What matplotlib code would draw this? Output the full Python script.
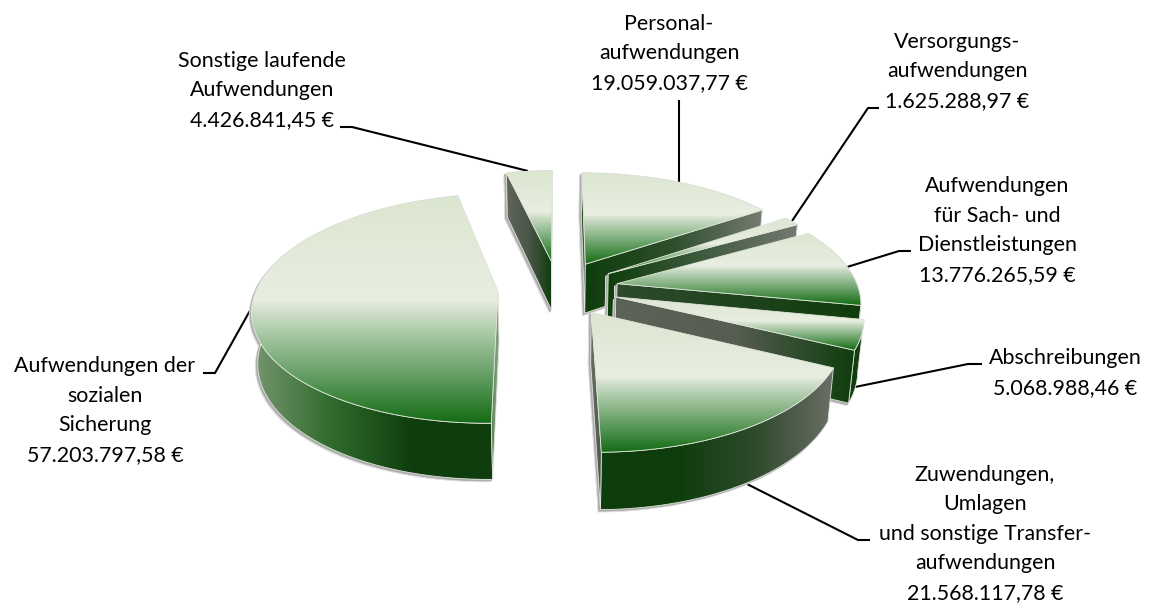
"""Exploded 3D pie of the expense categories, drawn with plain polygons and gradients."""
import matplotlib
matplotlib.use("Agg")
import matplotlib.pyplot as plt
import numpy as np
from matplotlib.colors import LinearSegmentedColormap
from matplotlib.patches import Polygon

# clockwise from north
CATEGORIES = [
    "Personal-\naufwendungen",
    "Versorgungs-\naufwendungen",
    "Aufwendungen\nfür Sach- und\nDienstleistungen",
    "Abschreibungen",
    "Zuwendungen,\nUmlagen\nund sonstige Transfer-\naufwendungen",
    "Aufwendungen der\nsozialen\nSicherung",
    "Sonstige laufende\nAufwendungen",
]
VALUES = [19059037.77, 1625288.97, 13776265.59, 5068988.46, 21568117.78, 57203797.58, 4426841.45]

# layout, in pixels of the 1152x603 canvas
LABEL_X = [669, 957, 997, 1065, 985, 105, 262]
LABEL_Y = [83, 101, 275, 388, 593, 455, 120]
LINE_STEP = 29.6
LEADERS = [
    [(679, 100), (679, 182)],
    [(879, 108), (868, 108), (792, 221)],
    [(911, 251), (899, 251), (847, 267)],
    [(982, 364), (968, 364), (855, 387)],
    [(870, 540), (858, 540), (745, 483)],
    [(203, 373), (215, 373), (252, 307)],
    [(340, 127), (352, 127), (528, 171)],
]
PAINT_ORDER = [6, 0, 1, 2, 3, 4, 5]

# projection
CX, CY = 558, 288
RADIUS_X, RADIUS_Y = 241, 111.3
PERSPECTIVE = 0.148
EXPLODE = 0.25
DEPTH = 50

DARK = "#0f3d0d"
TOP_CMAP = LinearSegmentedColormap.from_list(
    "top",
    [(0, "#dbe6d0"), (0.46, "#e9eee1"), (0.53, "#c8dac2"), (0.75, "#73a873"), (1, "#156c15")],
)
WALL_COLORS = [
    [DARK, "#2f4f2d", "#777b72"],
    [DARK, "#3f5a3d", "#757970"],
    ["#2f4a2d", "#1f431d", DARK],
    ["#5c6357", "#565d51", DARK],
    ["#6a6e66", "#4a5548"],
    ["#5f7f5a", "#8aa585"],
    ["#5f655a", "#4a5548", DARK],
]
RIM_COLORS = [
    [DARK, "#777b72"],
    [DARK, "#757970"],
    [DARK, DARK],
    [DARK, "#17401a"],
    [DARK, DARK, "#2e4a2c", "#6a6e66"],
    ["#76966f", "#2f6a2c", DARK, DARK],
    ["#5f655a", DARK],
]


def project(x, y, bottom=False):
    f = 1 / (1 + PERSPECTIVE * y)
    sx = RADIUS_X * x * f
    sy = CY - RADIUS_Y * y * f
    if bottom:
        return np.column_stack([CX + 0.98 * sx, sy + DEPTH * f**0.7])
    return np.column_stack([CX + sx, sy])


def signed_area(poly):
    x, y = poly[:, 0], poly[:, 1]
    return np.sum(x * np.roll(y, -1) - np.roll(x, -1) * y) / 2


def gradient_fill(ax, poly, colors, zorder, vertical=False, cmap=None):
    cmap = cmap or LinearSegmentedColormap.from_list("g", colors)
    ramp = np.linspace(0, 1, 256)
    ramp = ramp[:, None] if vertical else ramp[None, :]
    x0, y0 = poly.min(axis=0)
    x1, y1 = poly.max(axis=0)
    im = ax.imshow(
        ramp, cmap=cmap, vmin=0, vmax=1, extent=(x0, x1, y1, y0), origin="upper",
        aspect="auto", interpolation="bilinear", zorder=zorder,
    )
    clip = Polygon(poly, closed=True, transform=ax.transData)
    im.set_clip_path(clip)
    ax.add_patch(Polygon(poly, closed=True, fill=False, ec="#dfe4da", lw=0.6, zorder=zorder + 0.1))


def german(value):
    return f"{value:,.2f} €".replace(",", "#").replace(".", ",").replace("#", ".")


fig = plt.figure(figsize=(11.52, 6.03), dpi=100)
ax = fig.add_axes([0, 0, 1, 1])
ax.set_xlim(0, 1152)
ax.set_ylim(603, 0)
ax.autoscale(False)
ax.axis("off")

total = sum(VALUES)
spans = np.array(VALUES) / total * 2 * np.pi
starts = np.concatenate([[0], np.cumsum(spans)[:-1]])

z = 2
for i in PAINT_ORDER:
    t0, t1 = starts[i], starts[i] + spans[i]
    mid = (t0 + t1) / 2
    ax0, ay0 = EXPLODE * np.sin(mid), EXPLODE * np.cos(mid)
    theta = np.linspace(t0, t1, 80)
    ex, ey = ax0 + np.sin(theta), ay0 + np.cos(theta)

    arc_top = project(ex, ey)
    arc_bot = project(ex, ey, bottom=True)
    apex_top = project(np.array([ax0]), np.array([ay0]))
    apex_bot = project(np.array([ax0]), np.array([ay0]), bottom=True)

    top = np.vstack([apex_top, arc_top])
    rim = np.vstack([arc_top, arc_bot[::-1]])
    wall0 = np.vstack([apex_top, arc_top[:1], arc_bot[:1], apex_bot])
    wall1 = np.vstack([apex_top, arc_top[-1:], arc_bot[-1:], apex_bot])

    # soft drop shadow, two offset silhouettes
    for (dx, dy), col in zip([(-2.5, 2.5), (-1.5, 1.5)], ["#dcdcdc", "#ababab"]):
        for poly in (rim, wall0, wall1):
            ax.add_patch(Polygon(poly + [dx, dy], closed=True, fc=col, ec=col, lw=0.5, zorder=z))
        z += 1

    gradient_fill(ax, rim, RIM_COLORS[i], z)
    z += 1
    if signed_area(wall0) < 0:
        gradient_fill(ax, wall0, WALL_COLORS[i], z)
        z += 1
    if signed_area(wall1) > 0:
        gradient_fill(ax, wall1, WALL_COLORS[i], z)
        z += 1
    gradient_fill(ax, top, None, z, vertical=True, cmap=TOP_CMAP)
    z += 1

for pts in LEADERS:
    xs, ys = zip(*pts)
    ax.plot(xs, ys, color="black", lw=1.5, solid_capstyle="butt", zorder=1)

for name, value, x, y in zip(CATEGORIES, VALUES, LABEL_X, LABEL_Y):
    lines = f"{name}\n{german(value)}".split("\n")
    for n, line in enumerate(lines):
        ax.text(
            x, y - (len(lines) - 1 - n) * LINE_STEP, line, ha="center", va="center",
            family="Lato", fontsize=15.4, color="black", zorder=z + 1,
        )

fig.savefig("out.png", dpi=100, facecolor="white")
